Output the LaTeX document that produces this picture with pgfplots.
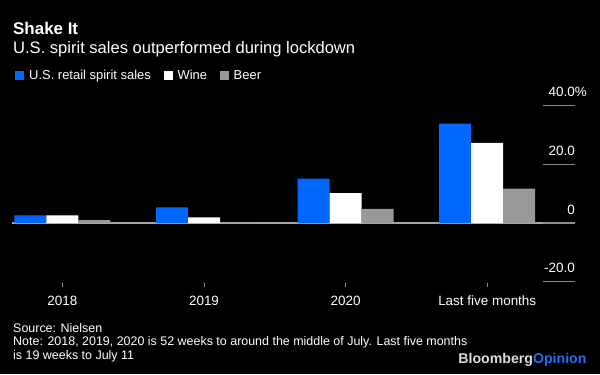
\documentclass[border=0pt]{standalone}
\usepackage{pgfplots}
\pgfplotsset{compat=1.18}
\usepackage{fontspec}
\setmainfont{Liberation Sans}
\definecolor{bblue}{HTML}{0068FF}
\definecolor{bgray}{HTML}{999999}
\definecolor{tickgray}{HTML}{8C8C8C}
\definecolor{basegray}{HTML}{A6A6A6}
\definecolor{logogray}{HTML}{DDDDDD}
\definecolor{logoblue}{HTML}{1F70F0}
\begin{document}
\begin{tikzpicture}[x=1bp,y=1bp]
\useasboundingbox (0,0) rectangle (600,374);
\fill[black] (0,0) rectangle (600,374);
\node[anchor=base west, inner sep=0, font=\fontsize{17}{20}\selectfont\bfseries, text=white] at (13,340) {Shake It};
\node[anchor=base west, inner sep=0, font=\fontsize{16.6}{19}\selectfont, text=white] at (13,320.7) {U.S. spirit sales outperformed during lockdown};
\begin{axis}[
  at={(12bp,92.3bp)}, anchor=south west,
  scale only axis, width=563bp, height=176bp,
  xmin=-0.356, xmax=3.62, ymin=-20, ymax=40,
  axis line style={draw=none},
  ybar=0pt, bar width=32bp,
  xtick={0,1,2,3}, xticklabels={2018,2019,2020,Last five months},
  xtick pos=left, xticklabel pos=left,
  ytick={-20,0,20,40}, yticklabels={-20.0,0,20.0,40.0\rlap{\%}},
  ytick pos=right, yticklabel pos=right,
  tick align=inside,
  major tick length=4bp,
  xtick style={draw=tickgray, line width=1bp, yshift=-5.5bp},
  ytick style={draw=tickgray, line width=1.2bp, /pgfplots/major tick length=32bp},
  xticklabel style={font=\fontsize{13.5}{16}\selectfont, text=white, anchor=base, inner sep=0pt, yshift=-23.3bp},
  yticklabel style={font=\fontsize{13.5}{16}\selectfont, text=white, anchor=base east, inner sep=0pt, yshift=9bp},
  extra y ticks={0}, extra y tick labels={},
  extra y tick style={grid=major, major grid style={draw=basegray, line width=1.2bp}},
  legend columns=3,
  legend image code/.code={\draw[#1,draw=none] (0bp,-4.5bp) rectangle (9bp,4.5bp);},
  legend style={at={(0.00586,1.1688)}, anchor=west, draw=none, fill=none, inner sep=0pt,
    font=\fontsize{13}{15}\selectfont, text=white, nodes={inner sep=0pt},
    /tikz/every odd column/.append style={column sep=4.7bp},
    /tikz/every even column/.append style={column sep=13bp}},
]
\addplot[fill=bblue, draw=none] coordinates {(0,2.6) (1,5.3) (2,15.1) (3,33.9)};
\addplot[fill=white, draw=none] coordinates {(0,2.6) (1,1.9) (2,10.2) (3,27.3)};
\addplot[fill=bgray, draw=none] coordinates {(0,1.0) (1,0) (2,4.8) (3,11.7)};
\legend{U.S. retail spirit sales, Wine, Beer}
\end{axis}
\node[anchor=base west, inner sep=0, font=\fontsize{12.5}{15}\selectfont, text=white] at (13,41.7) {Source: Nielsen};
\node[anchor=base west, inner sep=0, font=\fontsize{12.5}{15}\selectfont, text=white] at (13,28.7) {Note: 2018, 2019, 2020 is 52 weeks to around the middle of July. Last five months};
\node[anchor=base west, inner sep=0, font=\fontsize{12.5}{15}\selectfont, text=white] at (13,14.7) {is 19 weeks to July 11};
\node[anchor=base east, inner sep=0, font=\fontsize{14.2}{16}\selectfont\bfseries] at (586.7,10.7) {\textcolor{logogray}{Bloomberg}\textcolor{logoblue}{Opinion}};
\end{tikzpicture}
\end{document}
